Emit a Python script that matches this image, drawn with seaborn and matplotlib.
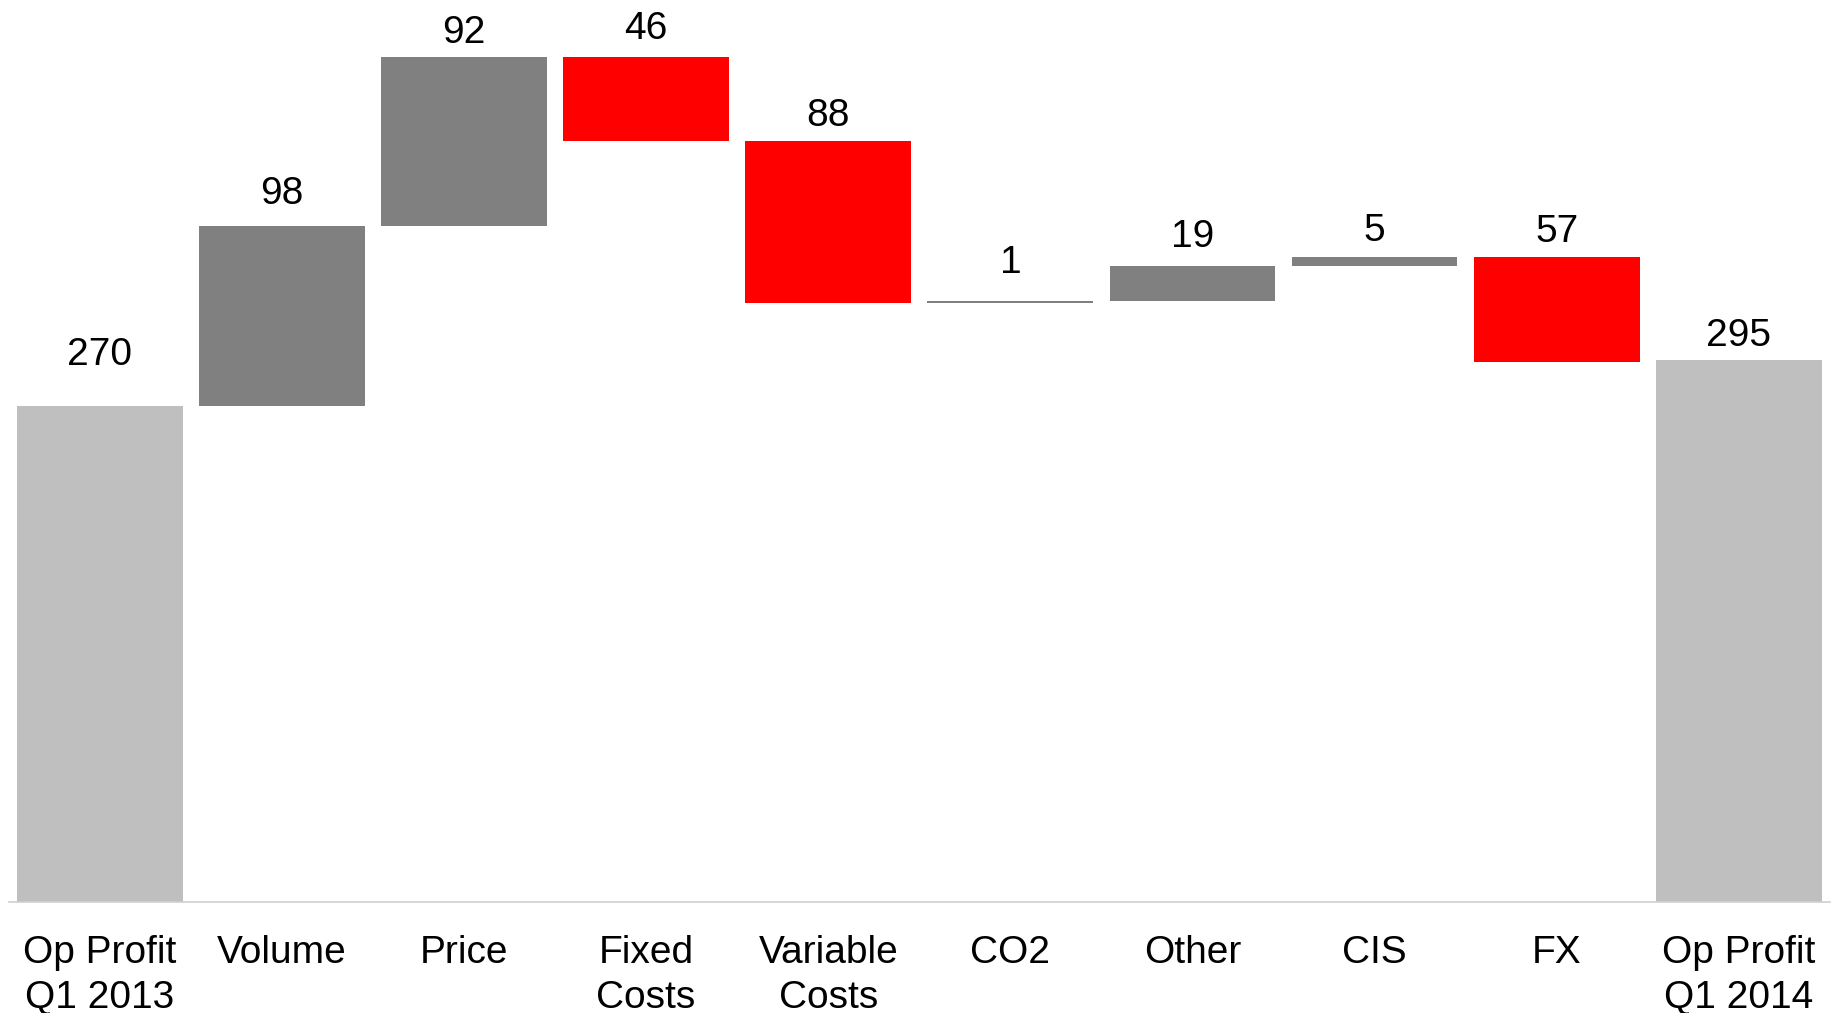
import matplotlib
matplotlib.use("Agg")
import matplotlib.pyplot as plt
from matplotlib import font_manager
import seaborn as sns
import numpy as np

categories = ["Op Profit\nQ1 2013", "Volume", "Price", "Fixed\nCosts", "Variable\nCosts",
              "CO2", "Other", "CIS", "FX", "Op Profit\nQ1 2014"]
changes = [270, 98, 92, -46, -88, 1, 19, 5, -57, 295]
is_total = [True, False, False, False, False, False, False, False, False, True]

# style: gap (px) between bar top and label baseline, as in the reference
label_gap_px = [41, 22, 14, 18, 15, 28, 19, 16, 15, 14]

sns.set_theme(style="white")
plt.rcParams['font.family'] = ['Liberation Sans', 'DejaVu Sans']

# compute floating bar bottoms
bottoms = []
heights = []
running = 0
for v, tot in zip(changes, is_total):
    if tot:
        bottoms.append(0)
        heights.append(v)
        running = v
    else:
        if v >= 0:
            bottoms.append(running)
            heights.append(v)
        else:
            bottoms.append(running + v)
            heights.append(-v)
        running += v

colors = []
for v, tot in zip(changes, is_total):
    if tot:
        colors.append("#BFBFBF")
    elif v >= 0:
        colors.append("#808080")
    else:
        colors.append("#FF0000")

fig = plt.figure(figsize=(18.41, 10.13), dpi=100)
ax = fig.add_axes([0.0047, 0.11, 0.9893, 0.89])

sns.barplot(x=categories, y=heights, hue=categories, palette=colors, legend=False,
            width=0.91, ax=ax, saturation=1, linewidth=0)

for patch, b in zip(ax.patches, bottoms):
    patch.set_y(b)

for i, (b, h, v) in enumerate(zip(bottoms, heights, changes)):
    ax.annotate(f"{abs(v)}", xy=(i, b + h), xytext=(0, label_gap_px[i] * 0.72),
                textcoords="offset points", ha="center", va="baseline",
                fontsize=28, color="black")

ax.set_xlim(-0.5, 9.5)
ax.set_ylim(0, 491)
ax.set_yticks([])
ax.set_ylabel("")
ax.tick_params(axis="x", length=0, pad=24, labelsize=28, labelcolor="black")
for lbl in ax.get_xticklabels():
    lbl.set_linespacing(1.32)

for s in ["top", "right", "left"]:
    ax.spines[s].set_visible(False)
ax.spines["bottom"].set_color("#D0D0D0")
ax.spines["bottom"].set_linewidth(1.2)
ax.spines["bottom"].set_linestyle((0, (1, 1)))
ax.set_facecolor("white")
fig.patch.set_facecolor("white")

fig.savefig("out.png", dpi=100, facecolor="white")
